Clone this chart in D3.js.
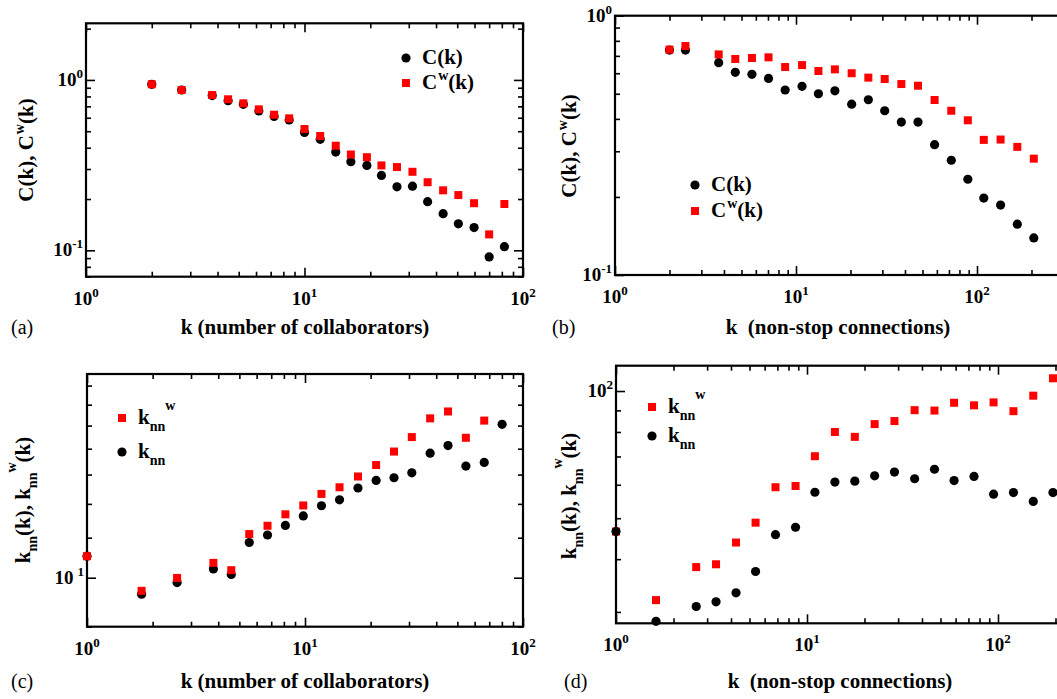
<!DOCTYPE html>
<html>
<head>
<meta charset="utf-8">
<script src="https://cdn.jsdelivr.net/npm/d3@7"></script>
<style>
  body { margin: 0; background: #fff; }
  svg text.serif, svg text.serif tspan { font-family: "Liberation Serif", Tinos, FreeSerif, "STIX Two Text", monospace !important; }
</style>
</head>
<body>
<div id="chart"></div>
<script>
// (a) clustering vs number of collaborators
const kA   = [2.0, 2.74, 3.78, 4.47, 5.25, 6.18, 7.26, 8.51, 10.0, 11.8, 13.9, 16.3, 19.3, 22.5, 26.5, 31.2, 36.6, 43.1, 50.6, 59.7, 70.0, 82.2];
const cA   = [0.943, 0.873, 0.809, 0.756, 0.719, 0.657, 0.611, 0.582, 0.492, 0.448, 0.377, 0.331, 0.315, 0.275, 0.236, 0.238, 0.193, 0.164, 0.143, 0.136, 0.0914, 0.105];
const cwA  = [0.943, 0.873, 0.816, 0.770, 0.729, 0.672, 0.625, 0.595, 0.515, 0.469, 0.411, 0.365, 0.352, 0.315, 0.308, 0.289, 0.251, 0.225, 0.211, 0.189, 0.124, 0.187];

// (b) clustering vs non-stop connections
const kB   = [2.0, 2.45, 3.74, 4.62, 5.71, 7.05, 8.71, 10.8, 13.3, 16.4, 20.3, 25.1, 30.9, 38.2, 47.2, 58.3, 72.1, 89.0, 109, 135, 167, 206];
const cB   = [0.737, 0.737, 0.659, 0.605, 0.594, 0.573, 0.517, 0.534, 0.500, 0.513, 0.456, 0.474, 0.430, 0.389, 0.389, 0.318, 0.277, 0.234, 0.198, 0.186, 0.157, 0.139];
const cwB  = [0.740, 0.764, 0.709, 0.681, 0.687, 0.691, 0.634, 0.645, 0.612, 0.621, 0.600, 0.577, 0.570, 0.545, 0.537, 0.473, 0.430, 0.395, 0.332, 0.333, 0.312, 0.281];

// (c) knn vs number of collaborators
const kC    = [1.0, 1.78, 2.59, 3.80, 4.59, 5.55, 6.73, 8.13, 9.82, 11.9, 14.4, 17.5, 21.2, 25.6, 30.9, 37.5, 45.3, 54.7, 66.4, 80.2];
const knnC  = [11.03, 9.28, 9.78, 10.41, 10.15, 11.74, 12.15, 12.69, 13.25, 13.88, 14.26, 15.05, 15.58, 15.77, 16.13, 17.64, 18.26, 16.63, 16.91, 20.12];
const knnwC = [11.03, 9.42, 9.99, 10.70, 10.35, 12.20, 12.67, 13.35, 13.90, 14.65, 15.10, 15.86, 16.71, 17.77, 18.98, 20.67, 21.33, 18.92, 20.46, null];

// (d) knn vs non-stop connections
const kD    = [1.0, 1.62, 2.63, 3.34, 4.25, 5.38, 6.84, 8.71, 11.0, 14.0, 17.8, 22.6, 28.7, 36.6, 46.5, 58.9, 74.9, 94.8, 120.5, 153, 194];
const knnD  = [46.5, 28.5, 30.9, 31.7, 33.3, 37.4, 45.7, 47.6, 57.6, 60.9, 61.2, 63.0, 64.3, 62.0, 65.3, 61.4, 62.8, 57.0, 57.5, 54.8, 57.5];
const knnwD = [46.5, 32.0, 38.3, 38.9, 43.8, 48.8, 59.2, 59.6, 70.1, 80.0, 77.9, 83.5, 84.9, 90.1, 89.9, 93.8, 92.5, 94.0, 89.6, 97.5, 107.2];

const FONT = '"Liberation Serif", Tinos, FreeSerif, monospace';

const svg = d3.select("#chart").append("svg")
    .attr("width", 1057)
    .attr("height", 699);

// a text element in the serif font
function addText(g, size, bold) {
  return g.append("text")
    .attr("class", "serif")
    .attr("font-family", FONT)
    .style("font-family", FONT)
    .attr("font-size", size)
    .attr("font-weight", bold ? "bold" : "normal");
}

// writes "10" with a raised exponent
function powLabel(t, e, gap) {
  t.append("tspan").text("10");
  t.append("tspan").attr("dy", -8).attr("dx", gap || 0).attr("font-size", 13).text(e);
}

// title pieces: [text, "sup"|"sub"|"hi"|null]
function richText(t, parts) {
  let shift = 0;
  parts.forEach(([s, kind]) => {
    const target = kind === "sup" ? -9 : kind === "sub" ? 7 : kind === "hi" ? -14 : 0;
    const ts = t.append("tspan")
      .attr("dy", target - shift)
      .attr("dx", kind === "sup" ? 1 : null)
      .text(s);
    if (kind) ts.attr("font-size", 14);
    shift = target;
  });
}

function drawPanel(p) {
  const x = d3.scaleLog().domain(p.xDomain).range(p.xRange);
  const y = d3.scaleLog().domain(p.yDomain).range(p.yRange);
  const left = p.xRange[0], right = p.xRange[1], bottom = p.yRange[0], top = p.yRange[1];
  const g = svg.append("g");
  const major = v => Math.abs(Math.log10(v) - Math.round(Math.log10(v))) < 1e-9;
  const len = v => major(v) ? 9 : 5;

  // ticks on all four sides, pointing inward
  [
    [d3.axisBottom(x).tickValues(x.ticks()), `translate(0,${bottom})`, "y2", -1],
    [d3.axisTop(x).tickValues(x.ticks()), `translate(0,${top})`, "y2", 1],
    [d3.axisLeft(y).tickValues(y.ticks()), `translate(${left},0)`, "x2", 1],
    [d3.axisRight(y).tickValues(y.ticks()), `translate(${right},0)`, "x2", -1]
  ].forEach(([ax, tr, attr, sign]) => {
    g.append("g").attr("transform", tr)
      .call(ax.tickFormat("").tickSizeOuter(0))
      .call(a => a.select(".domain").remove())
      .call(a => a.selectAll(".tick text").remove())
      .call(a => a.selectAll(".tick line")
        .attr(attr, d => sign * len(d))
        .attr("stroke", "#000")
        .attr("stroke-width", 1.6));
  });

  g.append("rect")
    .attr("x", left).attr("y", top)
    .attr("width", right - left).attr("height", bottom - top)
    .attr("fill", "none").attr("stroke", "#000").attr("stroke-width", 2.2);

  // tick labels
  p.xLabels.forEach(e => {
    const t = addText(g, 19, true)
      .attr("x", x(Math.pow(10, e))).attr("y", bottom + 28)
      .attr("text-anchor", "middle");
    powLabel(t, e);
  });
  p.yLabels.forEach(e => {
    const t = addText(g, 19, true)
      .attr("x", left - 3).attr("y", y(Math.pow(10, e)) + 6)
      .attr("text-anchor", "end");
    powLabel(t, e, p.yGap);
  });

  // series
  p.series.forEach(s => {
    const pts = s.k.map((k, i) => ({k: k, v: s.v[i]})).filter(d => d.v != null);
    if (s.shape === "circle") {
      g.selectAll(null).data(pts).join("circle")
        .attr("cx", d => x(d.k)).attr("cy", d => y(d.v))
        .attr("r", 4.6).attr("fill", "#000");
    } else {
      g.selectAll(null).data(pts).join("rect")
        .attr("x", d => x(d.k) - 4).attr("y", d => y(d.v) - 4)
        .attr("width", 8).attr("height", 8).attr("fill", "#ff0000");
    }
  });

  // legend
  p.legend.forEach(l => {
    if (l.shape === "circle") {
      g.append("circle").attr("cx", l.x).attr("cy", l.y).attr("r", 4.6).attr("fill", "#000");
    } else {
      g.append("rect").attr("x", l.x - 4).attr("y", l.y - 4).attr("width", 8).attr("height", 8).attr("fill", "#ff0000");
    }
    const t = addText(g, 21, true)
      .attr("x", l.x + 16).attr("y", l.y + 6);
    richText(t, l.parts);
  });

  // axis titles and panel letter
  addText(g, 21, true)
    .attr("x", p.xTitle.x).attr("y", p.xTitle.y)
    .attr("text-anchor", "middle")
    .attr("xml:space", "preserve")
    .text(p.xTitle.text);
  const yt = addText(g, 21, true)
    .attr("transform", `translate(${p.yTitle.x},${p.yTitle.y}) rotate(-90)`)
    .attr("text-anchor", "middle");
  richText(yt, p.yTitle.parts);
  addText(g, 20, false)
    .attr("x", p.letter.x).attr("y", p.letter.y)
    .text(p.letter.text);
}

const cParts  = [["C(k)", null]];
const cwParts = [["C", null], ["w", "sup"], ["(k)", null]];
const knnwLegend = [["k", null], ["nn", "sub"], ["w", "hi"]];
const knnLegend  = [["k", null], ["nn", "sub"]];
const cTitle = [["C(k), C", null], ["w", "sup"], ["(k)", null]];
const knnTitle = [["k", null], ["nn", "sub"], ["(k), k", null], ["nn", "sub"], ["w", "hi"], ["(k)", null]];

drawPanel({
  xDomain: [1, 100], xRange: [86, 523],
  yDomain: [0.07, 2.15], yRange: [276.7, 23.3],
  xLabels: [0, 1, 2], yLabels: [0, -1],
  series: [
    {k: kA, v: cA, shape: "circle"},
    {k: kA, v: cwA, shape: "square"}
  ],
  legend: [
    {x: 406, y: 58, shape: "circle", parts: cParts},
    {x: 406, y: 83, shape: "square", parts: cwParts}
  ],
  xTitle: {x: 305, y: 334, text: "k (number of collaborators)"},
  yTitle: {x: 33, y: 150, parts: cTitle},
  letter: {x: 11, y: 334, text: "(a)"}
});

drawPanel({
  xDomain: [1, 1000], xRange: [615, 1158],
  yDomain: [0.1, 1], yRange: [275, 15.7],
  xLabels: [0, 1, 2], yLabels: [0, -1],
  series: [
    {k: kB, v: cB, shape: "circle"},
    {k: kB, v: cwB, shape: "square"}
  ],
  legend: [
    {x: 695, y: 185, shape: "circle", parts: cParts},
    {x: 695, y: 211, shape: "square", parts: cwParts}
  ],
  xTitle: {x: 838, y: 334, text: "k  (non-stop connections)"},
  yTitle: {x: 576, y: 146, parts: cTitle},
  letter: {x: 552, y: 334, text: "(b)"}
});

drawPanel({
  xDomain: [1, 100], xRange: [87, 523],
  yDomain: [8, 25.3], yRange: [626.7, 374],
  xLabels: [0, 1, 2], yLabels: [1], yGap: 4,
  series: [
    {k: kC, v: knnC, shape: "circle"},
    {k: kC, v: knnwC, shape: "square"}
  ],
  legend: [
    {x: 122, y: 418, shape: "square", parts: knnwLegend},
    {x: 122, y: 452, shape: "circle", parts: knnLegend}
  ],
  xTitle: {x: 305, y: 688, text: "k (number of collaborators)"},
  yTitle: {x: 30, y: 500, parts: knnTitle},
  letter: {x: 11, y: 688, text: "(c)"}
});

drawPanel({
  xDomain: [1, 1000], xRange: [616, 1189],
  yDomain: [28.2, 114.8], yRange: [623.3, 365.7],
  xLabels: [0, 1, 2], yLabels: [2],
  series: [
    {k: kD, v: knnwD, shape: "square"},
    {k: kD, v: knnD, shape: "circle"}
  ],
  legend: [
    {x: 652, y: 407, shape: "square", parts: knnwLegend},
    {x: 652, y: 436, shape: "circle", parts: knnLegend}
  ],
  xTitle: {x: 840, y: 688, text: "k  (non-stop connections)"},
  yTitle: {x: 576, y: 496, parts: knnTitle},
  letter: {x: 564, y: 688, text: "(d)"}
});
</script>
</body>
</html>
